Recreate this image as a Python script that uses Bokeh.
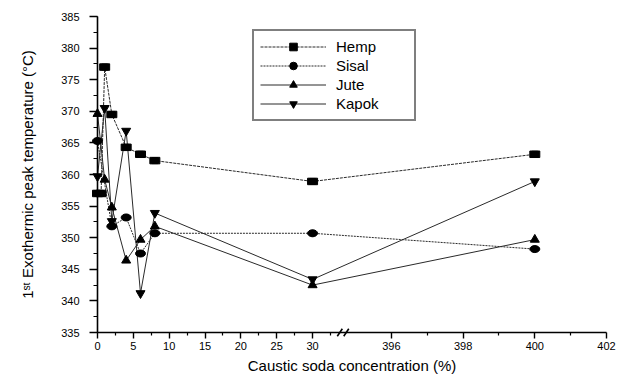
from bokeh.plotting import figure
from bokeh.models import FixedTicker, SingleIntervalTicker, Legend, LegendItem, ColumnDataSource
from bokeh.embed import file_html
from bokeh.resources import INLINE

# ---- data (caustic soda concentration %, 1st exothermic peak temperature °C) ----
hemp_x = [0, 0.5, 1, 2, 4, 6, 8, 30, 400]
hemp_y = [357.0, 357.0, 377.0, 369.5, 364.3, 363.2, 362.2, 358.9, 363.2]

sisal_x = [0, 2, 4, 6, 8, 30, 400]
sisal_y = [365.3, 351.8, 353.2, 347.5, 350.7, 350.7, 348.2]

jute_x = [0, 1, 2, 4, 6, 8, 30, 400]
jute_y = [369.6, 359.2, 354.8, 346.4, 349.7, 351.8, 342.5, 349.7]

kapok_x = [0, 1, 2, 4, 6, 8, 30, 400]
kapok_y = [359.7, 370.5, 352.6, 366.9, 341.2, 353.9, 343.4, 358.9]

x_major_ticks = [0, 5, 10, 15, 20, 25, 30, 396, 398, 400, 402]
x_minor_ticks = [2.5, 7.5, 12.5, 17.5, 22.5, 27.5, 32.5, 397, 399, 401]
x_tick_labels = ["0", "5", "10", "15", "20", "25", "30", "396", "398", "400", "402"]

# broken axis: left segment 0..~35, right segment 396..402 stretched 5x
BREAK_AT = 396
RIGHT_OFFSET = 41
RIGHT_STRETCH = 5


def axpos(v):
    return v if v < 100 else RIGHT_OFFSET + (v - BREAK_AT) * RIGHT_STRETCH


def src(xs, ys):
    return ColumnDataSource(dict(x=[axpos(v) for v in xs], y=ys))


p = figure(width=618, height=376, x_range=(0, axpos(402)), y_range=(335, 385),
           output_backend="svg", toolbar_location=None,
           min_border_left=97, min_border_right=12, min_border_top=16, min_border_bottom=43)
p.outline_line_color = None
p.xgrid.visible = False
p.ygrid.visible = False
p.background_fill_color = "white"
p.border_fill_color = "white"

FONT = "Liberation Sans"

# axes
xa = p.xaxis[0]
xa.ticker = FixedTicker(ticks=[axpos(v) for v in x_major_ticks],
                        minor_ticks=[axpos(v) for v in x_minor_ticks])
xa.major_label_overrides = {axpos(v): lab for v, lab in zip(x_major_ticks, x_tick_labels)}
xa.axis_label = "Caustic soda concentration (%)"

ya = p.yaxis[0]
ya.ticker = SingleIntervalTicker(interval=5, num_minor_ticks=2)
ya.axis_label = "1ˢᵗ Exothermic peak temperature (°C)"

for ax in (xa, ya):
    ax.axis_line_width = 1.6
    ax.axis_line_color = "black"
    ax.major_tick_line_width = 1.4
    ax.minor_tick_line_width = 1.2
    ax.major_tick_in = 0
    ax.minor_tick_in = 0
    ax.major_label_text_font = FONT
    ax.major_label_text_font_size = "11px"
    ax.major_label_text_color = "black"
    ax.axis_label_text_font = FONT
    ax.axis_label_text_font_size = "15px"
    ax.axis_label_text_font_style = "normal"
    ax.axis_label_text_color = "black"

xa.major_tick_out = 6
xa.minor_tick_out = 3
xa.major_label_standoff = 3
xa.axis_label_standoff = 4
ya.major_tick_out = 8
ya.minor_tick_out = 4
ya.major_label_standoff = 10
ya.axis_label_standoff = 22

# break marks on the x axis
bpos = (axpos(32.5) + axpos(395)) / 2
brk = p.segment(x0=[bpos - 0.8, bpos + 0.1], y0=[334.4, 334.4],
                x1=[bpos - 0.1, bpos + 0.8], y1=[335.6, 335.6],
                line_color="black", line_width=1.6)
brk.level = "overlay"

LINE_COLOR = "#2a2a2a"

hs, ss, js, ks = src(hemp_x, hemp_y), src(sisal_x, sisal_y), src(jute_x, jute_y), src(kapok_x, kapok_y)

l_hemp = p.line("x", "y", source=hs, line_color=LINE_COLOR, line_width=1, line_dash="3 1")
l_sisal = p.line("x", "y", source=ss, line_color=LINE_COLOR, line_width=1, line_dash="2 1")
l_jute = p.line("x", "y", source=js, line_color=LINE_COLOR, line_width=1)
l_kapok = p.line("x", "y", source=ks, line_color=LINE_COLOR, line_width=1)

# legend-size markers (hidden under the wider plot markers)
m_hemp_leg = p.scatter("x", "y", source=hs, marker="square", size=6, color="black")
m_sisal_leg = p.scatter("x", "y", source=ss, marker="circle", size=6, color="black")

m_hemp = p.rect("x", "y", source=hs, width=10, height=6.5, width_units="screen",
                height_units="screen", fill_color="black", line_color="black")
m_sisal = p.ellipse("x", "y", source=ss, width=10, height=7, width_units="screen",
                    height_units="screen", fill_color="black", line_color="black")
m_jute = p.scatter("x", "y", source=js, marker="triangle", size=9, color="black")
m_kapok = p.scatter("x", "y", source=ks, marker="inverted_triangle", size=9, color="black")

for r in (m_hemp_leg, m_sisal_leg, m_hemp, m_sisal, m_jute, m_kapok):
    r.level = "overlay"

legend = Legend(items=[
    LegendItem(label="Hemp", renderers=[l_hemp, m_hemp_leg]),
    LegendItem(label="Sisal", renderers=[l_sisal, m_sisal_leg]),
    LegendItem(label="Jute", renderers=[l_jute, m_jute]),
    LegendItem(label="Kapok", renderers=[l_kapok, m_kapok]),
], location=(155, 211))
legend.label_text_font = FONT
legend.label_text_font_size = "15px"
legend.label_text_color = "black"
legend.label_standoff = 10
legend.glyph_width = 66
legend.glyph_height = 19
legend.label_height = 19
legend.label_width = 72
legend.spacing = 0
legend.padding = 6
legend.border_line_color = "black"
legend.border_line_width = 2
legend.background_fill_color = "white"
legend.background_fill_alpha = 1
p.add_layout(legend, "center")

open("out.html", "w").write(file_html(p, INLINE))
